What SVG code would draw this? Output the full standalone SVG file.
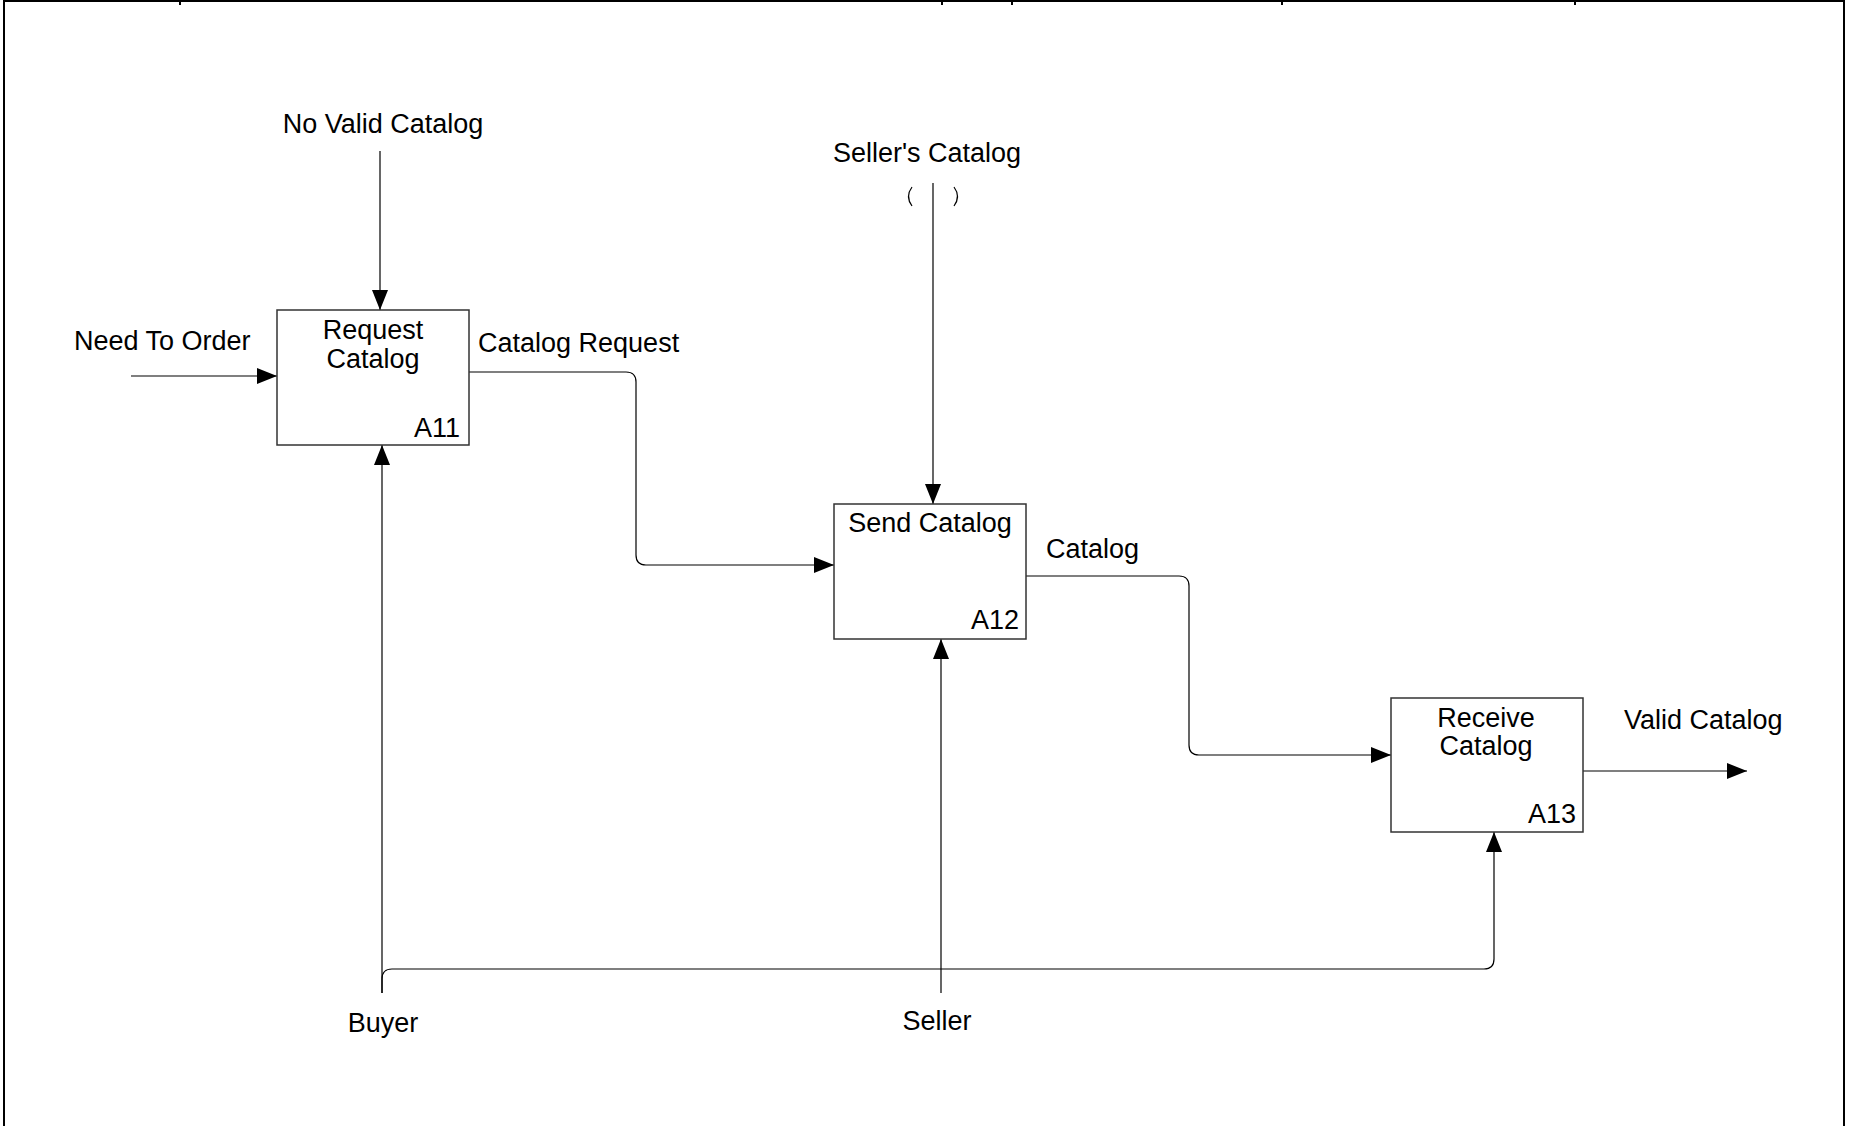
<svg xmlns="http://www.w3.org/2000/svg" width="1851" height="1126" viewBox="0 0 1851 1126">
<style>
text{font-family:"Liberation Sans",Arial,sans-serif;font-size:27px;fill:#000}
.box{fill:#fff;stroke:#333;stroke-width:1.5}
.c{fill:none;stroke:#000;stroke-width:1.2}
.frame{fill:none;stroke:#000;stroke-width:2}
.mid{text-anchor:middle}
.end{text-anchor:end}
</style>
<defs>
<marker id="ah" viewBox="0 0 20 16" refX="20" refY="8" markerWidth="20" markerHeight="16" markerUnits="userSpaceOnUse" orient="auto">
<path d="M0,0 L20,8 L0,16 z" fill="#000"/>
</marker>
</defs>
<rect width="1851" height="1126" fill="#fff"/>
<g id="frame">
<path class="frame" d="M4,1126 V1 H1844 V1126"/>
<path class="frame" d="M180,1 V5 M942,1 V5 M1012,1 V5 M1282,1 V5 M1575,1 V5"/>
</g>
<g id="connectors">
<path class="c" d="M131,376 H277" marker-end="url(#ah)"/>
<path class="c" d="M380,151 V310" marker-end="url(#ah)"/>
<path class="c" d="M469,372 H626 Q636,372 636,382 V555 Q636,565 646,565 H834" marker-end="url(#ah)"/>
<path class="c" d="M933,183 V504" marker-end="url(#ah)"/>
<path class="c" d="M912,187 Q905,196.5 912,206 M954,187 Q961,196.5 954,206"/>
<path class="c" d="M1026,576 H1179 Q1189,576 1189,586 V745 Q1189,755 1199,755 H1391" marker-end="url(#ah)"/>
<path class="c" d="M1582,771 H1747" marker-end="url(#ah)"/>
<path class="c" d="M382,993 V445" marker-end="url(#ah)"/>
<path class="c" d="M382,993 V979 Q382,969 392,969 H1484 Q1494,969 1494,959 V832" marker-end="url(#ah)"/>
<path class="c" d="M941,993 V639" marker-end="url(#ah)"/>
</g>
<g id="A11">
<rect class="box" x="277" y="310" width="192" height="135"/>
<text class="mid" x="373" y="339">Request</text>
<text class="mid" x="373" y="368">Catalog</text>
<text class="end" x="460" y="437">A11</text>
</g>
<g id="A12">
<rect class="box" x="834" y="504" width="192" height="135"/>
<text class="mid" x="930" y="532">Send Catalog</text>
<text class="end" x="1019" y="629">A12</text>
</g>
<g id="A13">
<rect class="box" x="1391" y="698" width="192" height="134"/>
<text class="mid" x="1486" y="727">Receive</text>
<text class="mid" x="1486" y="755">Catalog</text>
<text class="end" x="1576" y="823">A13</text>
</g>
<g id="labels">
<text class="mid" x="383" y="133">No Valid Catalog</text>
<text x="74" y="350">Need To Order</text>
<text x="478" y="352">Catalog Request</text>
<text class="mid" x="927" y="162">Seller's Catalog</text>
<text x="1046" y="558">Catalog</text>
<text x="1624" y="729">Valid Catalog</text>
<text class="mid" x="383" y="1032">Buyer</text>
<text class="mid" x="937" y="1030">Seller</text>
</g>
</svg>
